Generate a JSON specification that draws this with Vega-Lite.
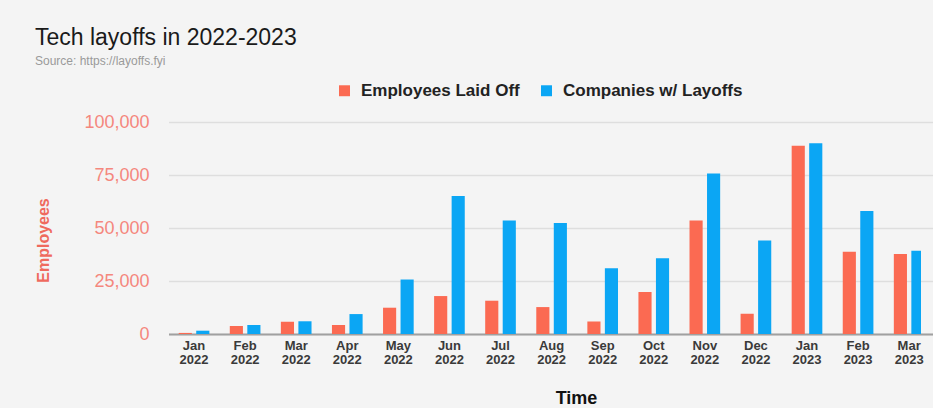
{
  "$schema": "https://vega.github.io/schema/vega-lite/v6.json",
  "width": 762,
  "height": 212,
  "autosize": {"type": "none"},
  "padding": {"left": 159, "top": 122, "right": 12, "bottom": 74},
  "background": "#F4F4F4",
  "title": {
    "text": "Tech layoffs in 2022-2023",
    "subtitle": "Source: https://layoffs.fyi",
    "anchor": "start",
    "frame": "group",
    "dx": -124,
    "offset": 15,
    "fontSize": 23,
    "fontWeight": "normal",
    "color": "#1a1a1a",
    "subtitleFontSize": 12,
    "subtitleColor": "#9a9a9a",
    "subtitlePadding": 6
  },
  "data": {
    "values": [
      {"month": "Jan 2022", "series": "Employees Laid Off", "value": 510},
      {"month": "Jan 2022", "series": "Companies w/ Layoffs", "value": 1560},
      {"month": "Feb 2022", "series": "Employees Laid Off", "value": 3770},
      {"month": "Feb 2022", "series": "Companies w/ Layoffs", "value": 4250},
      {"month": "Mar 2022", "series": "Employees Laid Off", "value": 5800},
      {"month": "Mar 2022", "series": "Companies w/ Layoffs", "value": 6000},
      {"month": "Apr 2022", "series": "Employees Laid Off", "value": 4250},
      {"month": "Apr 2022", "series": "Companies w/ Layoffs", "value": 9400},
      {"month": "May 2022", "series": "Employees Laid Off", "value": 12400},
      {"month": "May 2022", "series": "Companies w/ Layoffs", "value": 25700},
      {"month": "Jun 2022", "series": "Employees Laid Off", "value": 17900},
      {"month": "Jun 2022", "series": "Companies w/ Layoffs", "value": 65100},
      {"month": "Jul 2022", "series": "Employees Laid Off", "value": 15700},
      {"month": "Jul 2022", "series": "Companies w/ Layoffs", "value": 53500},
      {"month": "Aug 2022", "series": "Employees Laid Off", "value": 12700},
      {"month": "Aug 2022", "series": "Companies w/ Layoffs", "value": 52400},
      {"month": "Sep 2022", "series": "Employees Laid Off", "value": 5900},
      {"month": "Sep 2022", "series": "Companies w/ Layoffs", "value": 31000},
      {"month": "Oct 2022", "series": "Employees Laid Off", "value": 19800},
      {"month": "Oct 2022", "series": "Companies w/ Layoffs", "value": 35700},
      {"month": "Nov 2022", "series": "Employees Laid Off", "value": 53500},
      {"month": "Nov 2022", "series": "Companies w/ Layoffs", "value": 75700},
      {"month": "Dec 2022", "series": "Employees Laid Off", "value": 9500},
      {"month": "Dec 2022", "series": "Companies w/ Layoffs", "value": 44100},
      {"month": "Jan 2023", "series": "Employees Laid Off", "value": 88800},
      {"month": "Jan 2023", "series": "Companies w/ Layoffs", "value": 90000},
      {"month": "Feb 2023", "series": "Employees Laid Off", "value": 38800},
      {"month": "Feb 2023", "series": "Companies w/ Layoffs", "value": 58000},
      {"month": "Mar 2023", "series": "Employees Laid Off", "value": 37700},
      {"month": "Mar 2023", "series": "Companies w/ Layoffs", "value": 39300}
    ]
  },
  "mark": {"type": "bar", "clip": true},
  "encoding": {
    "x": {
      "field": "month",
      "type": "nominal",
      "sort": ["Jan 2022", "Feb 2022", "Mar 2022", "Apr 2022", "May 2022", "Jun 2022", "Jul 2022", "Aug 2022", "Sep 2022", "Oct 2022", "Nov 2022", "Dec 2022", "Jan 2023", "Feb 2023", "Mar 2023"],
      "scale": {"range": [9.5, 775.7], "paddingInner": 0.4, "paddingOuter": 0.2},
      "axis": {
        "title": "Time",
        "titleFontSize": 18,
        "titleFontWeight": "bold",
        "titleColor": "#111111",
        "titlePadding": 23,
        "titleX": 417,
        "labelAngle": 0,
        "labelExpr": "split(datum.label, ' ')",
        "labelFontSize": 13,
        "labelFontWeight": "bold",
        "labelColor": "#3a3a3a",
        "labelLineHeight": 14,
        "labelPadding": 5,
        "ticks": false,
        "domainColor": "#a0a0a0",
        "domainWidth": 2
      }
    },
    "xOffset": {
      "field": "series",
      "sort": ["Employees Laid Off", "Companies w/ Layoffs"],
      "scale": {"paddingInner": 0.25, "paddingOuter": 0}
    },
    "y": {
      "field": "value",
      "type": "quantitative",
      "scale": {"domain": [0, 100000], "nice": false},
      "axis": {
        "title": "Employees",
        "titleFontSize": 16,
        "titleFontWeight": "bold",
        "titleColor": "#EF6A5E",
        "titlePadding": 32,
        "titleY": 118,
        "values": [0, 25000, 50000, 75000, 100000],
        "format": ",.0f",
        "labelFontSize": 18,
        "labelColor": "#F4877D",
        "labelPadding": 10,
        "ticks": false,
        "domain": false,
        "gridColor": "#DEDEDE",
        "gridWidth": 1.5
      }
    },
    "color": {
      "field": "series",
      "type": "nominal",
      "sort": ["Employees Laid Off", "Companies w/ Layoffs"],
      "scale": {"domain": ["Employees Laid Off", "Companies w/ Layoffs"], "range": ["#FB6A52", "#0BA6F4"]},
      "legend": {
        "title": null,
        "orient": "none",
        "legendX": 177,
        "legendY": -40,
        "direction": "horizontal",
        "symbolType": "square",
        "symbolSize": 120,
        "symbolStrokeWidth": 0,
        "labelFontSize": 17,
        "labelFontWeight": "bold",
        "labelColor": "#222222",
        "labelOffset": 8,
        "labelLimit": 400,
        "columnPadding": 18
      }
    }
  },
  "config": {"view": {"stroke": null}, "font": "Liberation Sans"}
}
